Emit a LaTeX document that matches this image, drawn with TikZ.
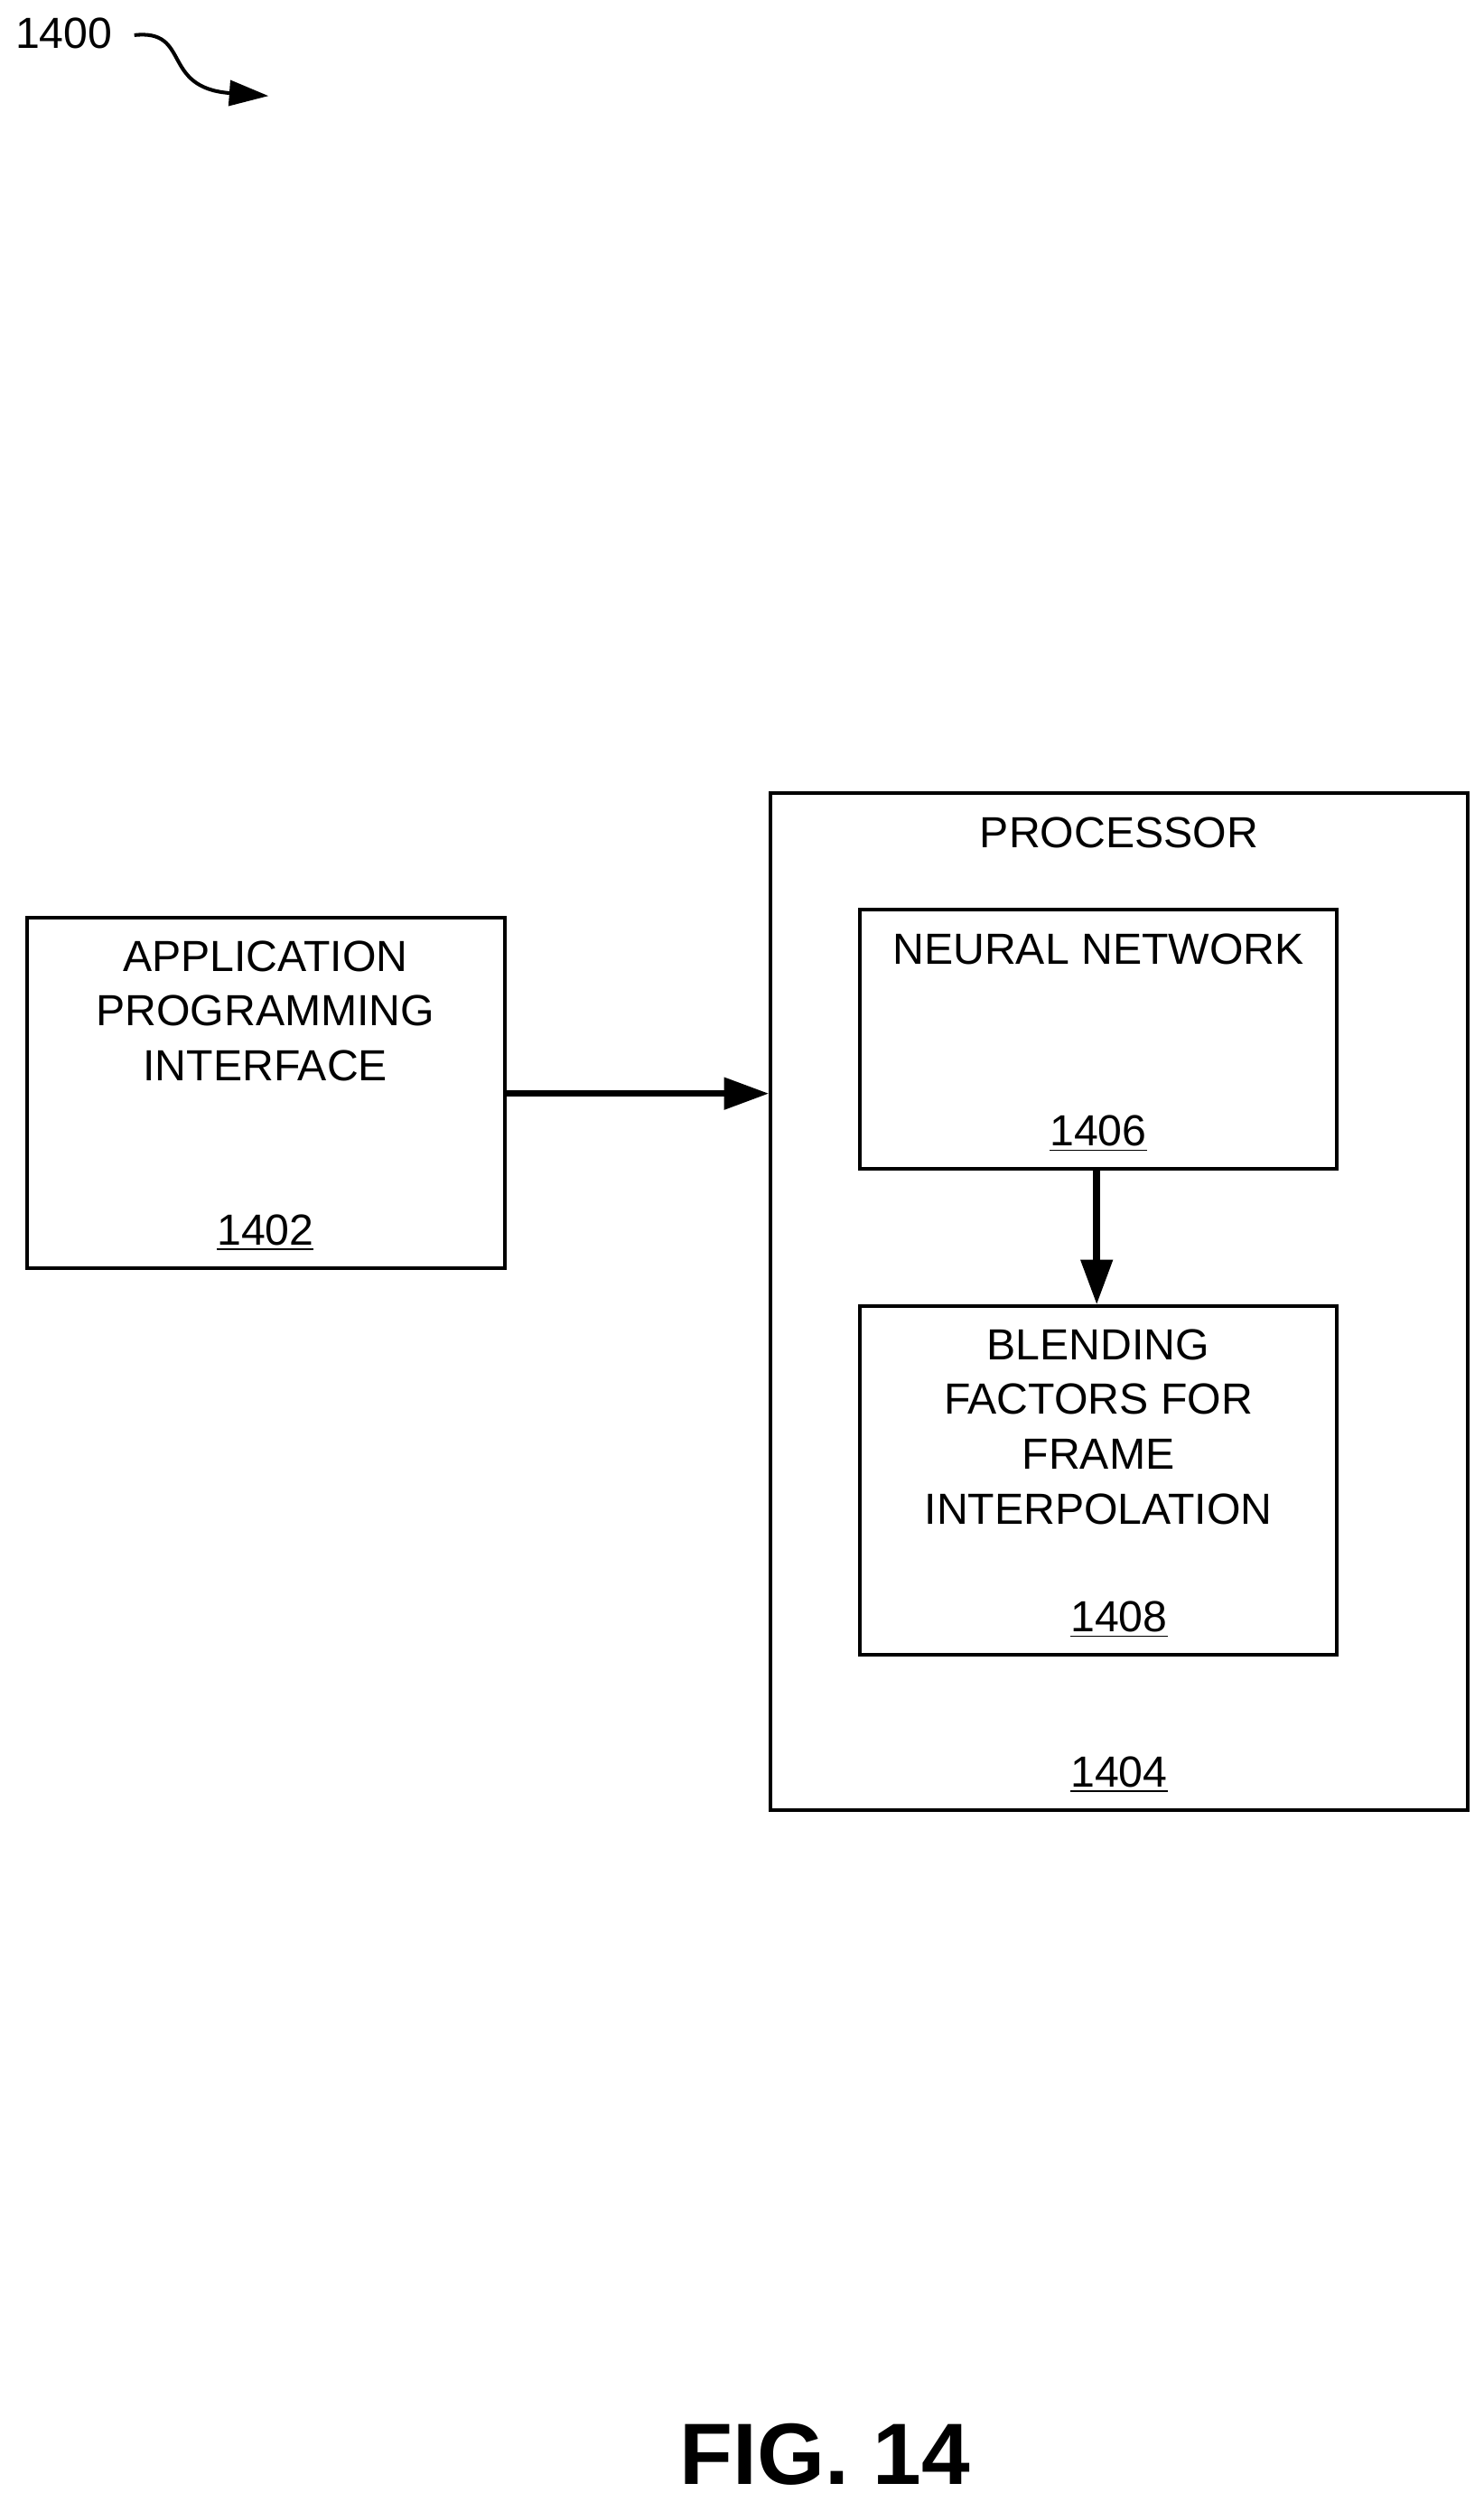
\documentclass[tikz,border=0pt]{standalone}
\usepackage{fontspec}
\setmainfont{Liberation Sans}
\usetikzlibrary{arrows.meta}
\begin{document}
\begin{tikzpicture}[x=0.02cm,y=-0.02cm,
    box/.style={draw, line width=1.3pt},
    lbl/.style={font=\fontsize{15.5}{19.5}\selectfont, align=center, inner sep=0pt},
    arr/.style={line width=2.4pt, -{Triangle[length=16pt,width=11pt]}}]
\useasboundingbox (0,0) rectangle (928,1565);
% blocks
\draw[box] (17,574) rectangle (316,793);
\draw[box] (482,496) rectangle (918,1132);
\draw[box] (538,569) rectangle (836,731);
\draw[box] (538,817) rectangle (836,1035);
\coordinate (api) at (316,684);
\coordinate (proc) at (481,684);
\coordinate (nn) at (686,731);
\coordinate (blend) at (686,816);
% texts
\node[lbl, anchor=north] (apitext) at (166,588) {APPLICATION\\PROGRAMMING\\INTERFACE};
\node[lbl] (apinum) at (166,771) {\underline{1402}};
\node[lbl] (proctext) at (700,521) {PROCESSOR};
\node[lbl] (procnum) at (700,1110) {\underline{1404}};
\node[lbl] (nntext) at (687,594) {NEURAL NETWORK};
\node[lbl] (nnnum) at (687,709) {\underline{1406}};
\node[lbl, anchor=north] (blendtext) at (687,831) {BLENDING\\FACTORS FOR\\FRAME\\INTERPOLATION};
\node[lbl] (blendnum) at (700,1013) {\underline{1408}};
% arrows
\draw[arr] (api) -- (proc);
\draw[arr] (nn) -- (blend);
% figure label
\node[lbl] (ref) at (40,21) {1400};
\coordinate (refend) at (168,60);
\draw[line width=1.3pt, -{Triangle[length=14pt,width=9pt]}] (84,22) .. controls (120,18) and (100,55) .. (refend);
\node[font=\fontsize{31}{36}\selectfont\bfseries, inner sep=0pt] (fig) at (516,1535) {FIG. 14};
\end{tikzpicture}
\end{document}
